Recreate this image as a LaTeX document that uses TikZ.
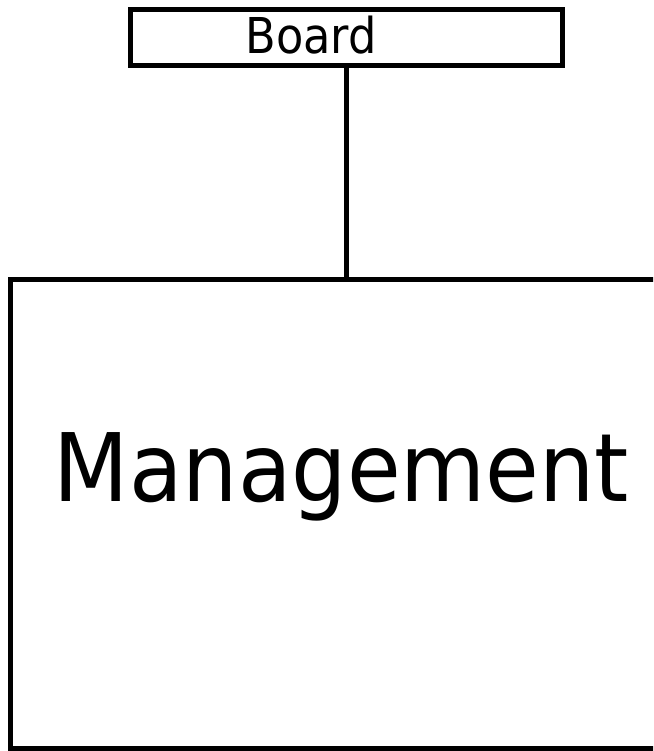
\documentclass[tikz,border=0pt]{standalone}
\usepackage{fontspec}
\setmainfont{DejaVu Sans}
\usepackage{graphicx}
\tikzset{%
    orgbox/.style={%
        draw, line width=5pt, inner sep=0pt, rectangle
    },
    orgline/.style={%
        line width=5pt
    }
}

\begin{document}
\begin{tikzpicture}[x=1pt, y=-1pt]
\useasboundingbox (0,0) rectangle (653,751);
\clip (0,0) rectangle (653,751);
% boxes
\node [orgbox, minimum width=432pt, minimum height=56pt] (board) at (346.5,38) {};
\node [orgbox, minimum width=661pt, minimum height=469pt] (mgmt) at (341,514) {};
% texts
\node [anchor=base, inner sep=0pt] (boardtext) at (311,54)
    {\fontsize{49.4}{52}\selectfont\scalebox{0.904}[1]{Board}};
\node [anchor=base, inner sep=0pt] (mgmttext) at (341.5,501)
    {\fontsize{94.6}{100}\selectfont\scalebox{0.923}[1]{Management}};
% connector
\draw [orgline] (board.south) -- (board.south |- mgmt.north);
\end{tikzpicture}
\end{document}
